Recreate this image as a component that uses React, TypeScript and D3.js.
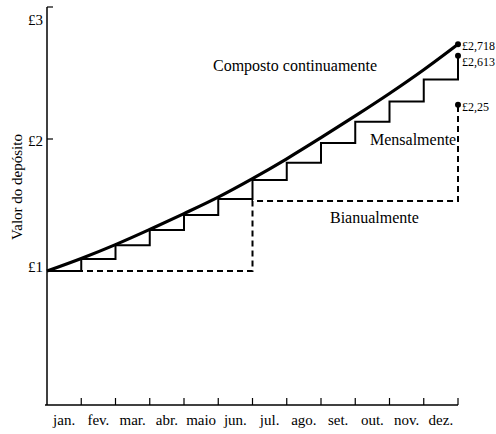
import React, { memo } from 'react'
import * as d3 from 'd3'

// meses e rótulos
const months = ['jan.', 'fev.', 'mar.', 'abr.', 'maio', 'jun.', 'jul.', 'ago.', 'set.', 'out.', 'nov.', 'dez.']
const monthIdx = [0, 1, 2, 3, 4, 5, 6, 7, 8, 9, 10, 11, 12]
// valores (fim de cada mês)
const continuous = [1, 1.095, 1.2, 1.315, 1.435, 1.56, 1.7, 1.85, 2.01, 2.175, 2.345, 2.525, 2.718]
const monthly = [1, 1.09, 1.195, 1.31, 1.425, 1.545, 1.69, 1.82, 1.97, 2.13, 2.285, 2.45, 2.63]
const biannualT = [0, 6, 12]
const biannual = [1, 1.53, 2.26]
const yTicks = [1, 2, 3]
const yTickLabels = ['£1', '£2', '£3']
const endLabels = ['£2,718', '£2,613', '£2,25']
const endValues = [2.718, 2.63, 2.26]

const FONT = '"Liberation Serif", "DejaVu Serif", serif'

const App = () => {
  const width = 496
  const height = 434

  // escalas
  const x = d3.scaleLinear().domain([0, 12]).range([47, 458])
  const y = d3.scaleLinear().domain([0, 3]).range([403, 7])

  const smooth = d3
    .line<number>()
    .x((d, i) => x(monthIdx[i]))
    .y((d) => y(d))
    .curve(d3.curveCatmullRom)

  const stepMonthly = d3
    .line<number>()
    .x((d, i) => x(monthIdx[i]))
    .y((d) => y(d))
    .curve(d3.curveStepAfter)

  const stepBi = d3
    .line<number>()
    .x((d, i) => x(biannualT[i]))
    .y((d) => y(d))
    .curve(d3.curveStepAfter)

  const axisY = y(0) + 2
  const labelOffsets = [-2, 4, 15]
  const endLabelDy = [3, 7, 4]

  return (
    <svg width={width} height={height} style={{ display: 'block', position: 'absolute', left: 0, top: 0 }}>
      <rect width={width} height={height} fill="#fff" />
      {/* eixo y */}
      <line x1={x(0)} x2={x(0)} y1={y(3)} y2={axisY} stroke="#000" strokeWidth={1.5} />
      {yTicks.slice(1).map((v) => (
        <line key={v} x1={x(0)} x2={x(0) + 6} y1={y(v)} y2={y(v)} stroke="#000" strokeWidth={1.2} />
      ))}
      {yTicks.map((v, i) => (
        <text
          key={v}
          x={x(0) - 4}
          y={y(v) + labelOffsets[i]}
          textAnchor="end"
          dominantBaseline="middle"
          fontFamily={FONT}
          fontSize={15}
        >
          {yTickLabels[i]}
        </text>
      ))}
      <text
        transform={`translate(19, 187) rotate(-90)`}
        textAnchor="middle"
        dominantBaseline="middle"
        fontFamily={FONT}
        fontSize={15}
      >
        Valor do depósito
      </text>

      {/* eixo x */}
      <line x1={x(0) - 2} x2={x(12)} y1={axisY} y2={axisY} stroke="#000" strokeWidth={1.5} />
      {monthIdx.slice(1).map((m) => (
        <line key={m} x1={x(m)} x2={x(m)} y1={axisY} y2={axisY - 7} stroke="#000" strokeWidth={1.2} />
      ))}
      {months.map((m, i) => (
        <text
          key={m}
          x={(x(i) + x(i + 1)) / 2}
          y={axisY + 17}
          textAnchor="middle"
          dominantBaseline="middle"
          fontFamily={FONT}
          fontSize={15}
        >
          {m}
        </text>
      ))}

      {/* séries */}
      <path d={stepBi(biannual) || ''} fill="none" stroke="#000" strokeWidth={2} strokeDasharray="6,4" />
      <path d={stepMonthly(monthly) || ''} fill="none" stroke="#000" strokeWidth={2} />
      <path d={smooth(continuous) || ''} fill="none" stroke="#000" strokeWidth={3.2} />

      {endValues.map((v, i) => (
        <g key={i}>
          <circle cx={x(12)} cy={y(v)} r={3} fill="#000" />
          <text
            x={x(12) + 4}
            y={y(v) + endLabelDy[i]}
            dominantBaseline="middle"
            fontFamily={FONT}
            fontSize={12}
          >
            {endLabels[i]}
          </text>
        </g>
      ))}

      <text x={213} y={67} dominantBaseline="middle" fontFamily={FONT} fontSize={16}>
        Composto continuamente
      </text>
      <text x={370} y={141} dominantBaseline="middle" fontFamily={FONT} fontSize={16}>
        Mensalmente
      </text>
      <text x={330} y={219} dominantBaseline="middle" fontFamily={FONT} fontSize={16}>
        Bianualmente
      </text>
    </svg>
  )
}

export default memo(App)
